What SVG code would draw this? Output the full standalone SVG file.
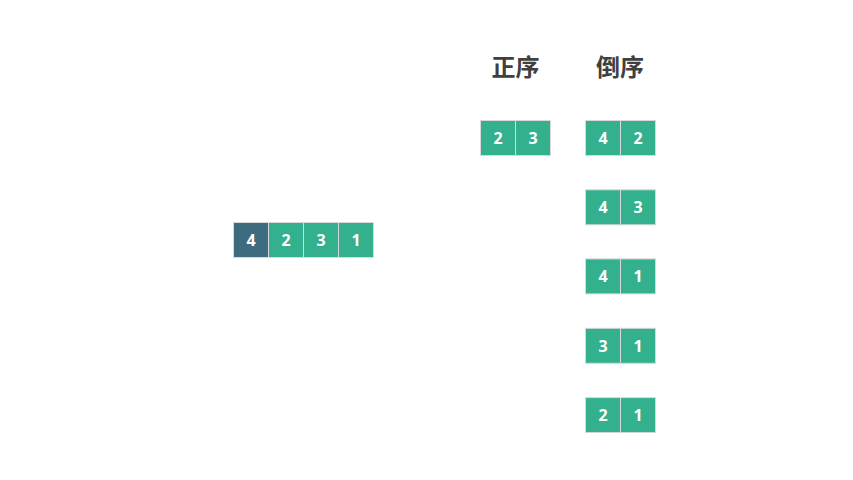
<svg xmlns="http://www.w3.org/2000/svg" width="853" height="480" viewBox="0 0 853 480">
<style>
.c{fill:#33B18F;stroke:#D9D9D9;stroke-width:1}
.d{fill:#3E6B7E;stroke:#D9D9D9;stroke-width:1}
.t{font-family:"Open Sans","Noto Sans",sans-serif;font-weight:bold;font-size:16px;fill:#FFFFFF;text-anchor:middle;dominant-baseline:central}
.h{font-family:"Noto Sans CJK SC",sans-serif;font-weight:bold;font-size:24px;fill:#404040;text-anchor:middle}
</style>
<rect width="853" height="480" fill="#FFFFFF"/>
<g id="title-forward"><text class="h" x="515.5" y="76">正序</text></g>
<g id="title-reverse"><text class="h" x="620" y="76">倒序</text></g>
<g id="array">
<rect class="d" x="233.5" y="222.5" width="35" height="35"/><text class="t" x="251" y="240">4</text>
<rect class="c" x="268.5" y="222.5" width="35" height="35"/><text class="t" x="286" y="240">2</text>
<rect class="c" x="303.5" y="222.5" width="35" height="35"/><text class="t" x="321" y="240">3</text>
<rect class="c" x="338.5" y="222.5" width="35" height="35"/><text class="t" x="356" y="240">1</text>
</g>
<g id="pair-23">
<rect class="c" x="480.5" y="120.5" width="35" height="35"/><text class="t" x="498" y="138">2</text>
<rect class="c" x="515.5" y="120.5" width="35" height="35"/><text class="t" x="533" y="138">3</text>
</g>
<g id="pair-42">
<rect class="c" x="585.5" y="120.5" width="35" height="35"/><text class="t" x="603" y="138">4</text>
<rect class="c" x="620.5" y="120.5" width="35" height="35"/><text class="t" x="638" y="138">2</text>
</g>
<g id="pair-43">
<rect class="c" x="585.5" y="189.8" width="35" height="35"/><text class="t" x="603" y="207.3">4</text>
<rect class="c" x="620.5" y="189.8" width="35" height="35"/><text class="t" x="638" y="207.3">3</text>
</g>
<g id="pair-41">
<rect class="c" x="585.5" y="258.9" width="35" height="35"/><text class="t" x="603" y="276.4">4</text>
<rect class="c" x="620.5" y="258.9" width="35" height="35"/><text class="t" x="638" y="276.4">1</text>
</g>
<g id="pair-31">
<rect class="c" x="585.5" y="328.3" width="35" height="35"/><text class="t" x="603" y="345.8">3</text>
<rect class="c" x="620.5" y="328.3" width="35" height="35"/><text class="t" x="638" y="345.8">1</text>
</g>
<g id="pair-21">
<rect class="c" x="585.5" y="397.6" width="35" height="35"/><text class="t" x="603" y="415.1">2</text>
<rect class="c" x="620.5" y="397.6" width="35" height="35"/><text class="t" x="638" y="415.1">1</text>
</g>
<g id="connectors"></g>
</svg>
